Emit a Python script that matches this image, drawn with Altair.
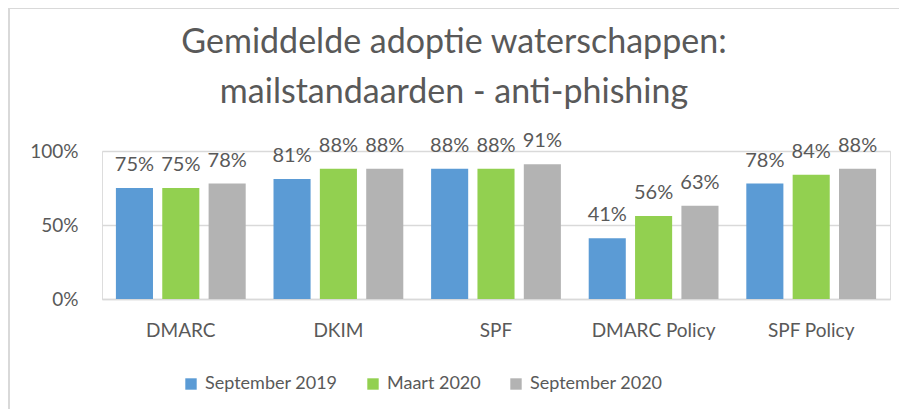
import altair as alt
import pandas as pd

categories = ["DMARC", "DKIM", "SPF", "DMARC Policy", "SPF Policy"]
series = ["September 2019", "Maart 2020", "September 2020"]
sep2019 = [0.75, 0.81, 0.88, 0.41, 0.78]
maart2020 = [0.75, 0.88, 0.88, 0.56, 0.84]
sep2020 = [0.78, 0.88, 0.91, 0.63, 0.88]
colors = ["#5b9bd5", "#92d050", "#b3b3b3"]
y_ticks = [0, 0.5, 1.0]
title_lines = ["Gemiddelde adoptie waterschappen:", "mailstandaarden - anti-phishing"]

rows = []
for s, vals in zip(series, [sep2019, maart2020, sep2020]):
    for c, v in zip(categories, vals):
        rows.append({"cat": c, "series": s, "value": v})
df = pd.DataFrame(rows)

FONT = "Lato"
TXT = "#595959"
W, H = 788, 148
PL, PT = 94, 143

x_enc = alt.X("cat:N", sort=categories, title=None,
              scale=alt.Scale(paddingInner=0, paddingOuter=0),
              axis=alt.Axis(labelAngle=0, ticks=False, labelPadding=22, labelFontSize=19,
                            labelColor=TXT, labelFont=FONT, domainColor="#d9d9d9", domainWidth=1.5))
xo_enc = alt.XOffset("series:N", sort=series,
                     scale=alt.Scale(paddingInner=0.2, paddingOuter=0.3))
y_enc = alt.Y("value:Q", title=None,
              scale=alt.Scale(domain=[0, 1], nice=False),
              axis=alt.Axis(values=y_ticks, format=".0%", domain=False, ticks=False,
                            labelPadding=24, labelFontSize=19, labelColor=TXT, labelFont=FONT,
                            gridColor="#d9d9d9", gridWidth=1.5))

bars = alt.Chart(df).mark_bar().encode(
    x=x_enc, xOffset=xo_enc, y=y_enc,
    color=alt.Color("series:N", sort=series,
                    scale=alt.Scale(domain=series, range=colors),
                    legend=alt.Legend(title=None, orient="none", direction="horizontal",
                                      legendX=80, legendY=224, symbolType="square",
                                      symbolSize=130, symbolStrokeWidth=0,
                                      labelFontSize=18, labelColor=TXT, labelFont=FONT,
                                      columnPadding=26, symbolOffset=0, labelOffset=5)),
)

labels = alt.Chart(df).mark_text(baseline="alphabetic", dy=-17, fontSize=20,
                                 color=TXT, font=FONT).encode(
    x=alt.X("cat:N", sort=categories), xOffset=alt.XOffset("series:N", sort=series),
    y="value:Q", text=alt.Text("value:Q", format=".0%"),
)

title_df = pd.DataFrame({"t": ["\n".join(title_lines)]})
title = alt.Chart(title_df).mark_text(fontSize=34, font=FONT, color=TXT, align="center",
                                      baseline="alphabetic", lineBreak="\n", lineHeight=50).encode(
    text="t:N",
    x=alt.value(352),
    y=alt.value(-98),
)

top_border = alt.Chart(pd.DataFrame({"a": [0]})).mark_rule(color="#d9d9d9", strokeWidth=2).encode(
    x=alt.value(-PL), x2=alt.value(W + 20), y=alt.value(-PT))
left_border = alt.Chart(pd.DataFrame({"a": [0]})).mark_rule(color="#d9d9d9", strokeWidth=2).encode(
    x=alt.value(-PL + 1), y=alt.value(-PT), y2=alt.value(H + 120))

chart = alt.layer(top_border, left_border, bars, labels, title).properties(
    width=W, height=H,
    autosize=alt.AutoSizeParams(type="none"),
    padding={"left": PL, "top": PT, "right": 891 - PL - W, "bottom": 401 - PT - H},
).configure_view(stroke=None).configure(background="white")

chart.save("out.html", embed_options={"renderer": "svg", "actions": False})
